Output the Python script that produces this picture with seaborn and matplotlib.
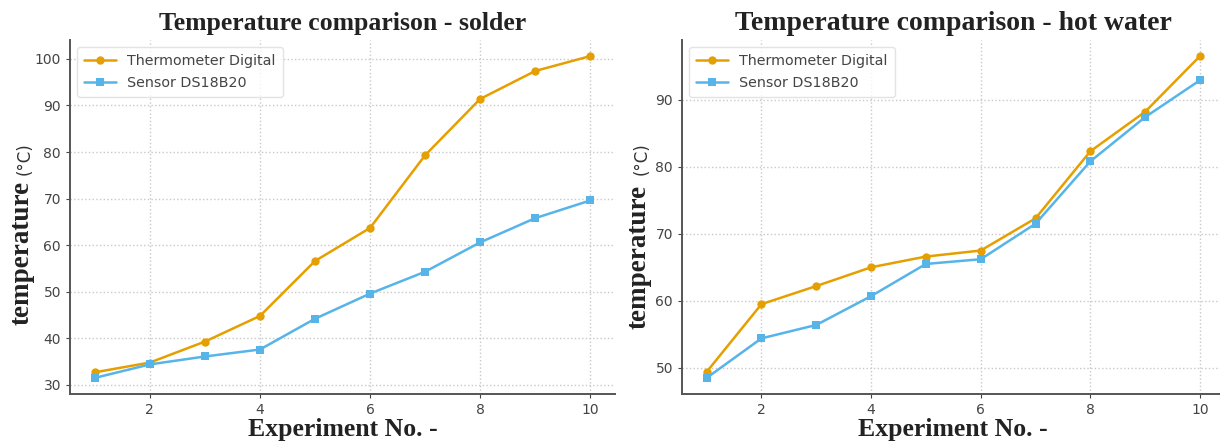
import numpy as np
import pandas as pd
import matplotlib
matplotlib.use("Agg")
import matplotlib.pyplot as plt
import seaborn as sns

# data
experiments = [1, 2, 3, 4, 5, 6, 7, 8, 9, 10]
solder_thermo = [32.7, 34.8, 39.3, 44.8, 56.6, 63.7, 79.3, 91.4, 97.4, 100.6]
solder_sensor = [31.5, 34.4, 36.1, 37.6, 44.2, 49.6, 54.3, 60.6, 65.8, 69.6]
water_thermo = [49.4, 59.5, 62.2, 65.0, 66.6, 67.5, 72.3, 82.3, 88.2, 96.5]
water_sensor = [48.5, 54.4, 56.4, 60.7, 65.5, 66.2, 71.5, 80.8, 87.4, 92.9]
series_names = ["Thermometer Digital", "Sensor DS18B20"]
titles = ["Temperature comparison - solder", "Temperature comparison - hot water"]

sns.set_theme(style="white")
plt.rcParams['font.family'] = ['DejaVu Sans']

ORANGE = "#E69F00"
BLUE = "#56B4E9"
SERIF = "Liberation Serif"

fig = plt.figure(figsize=(12.2, 4.44), dpi=100)
ax1 = fig.add_axes([0.0574, 0.1126, 0.4467, 0.7973])
ax2 = fig.add_axes([0.559, 0.1126, 0.4448, 0.7973])


def draw_panel(ax, thermo, sensor, title, title_size, lab_x, lab_y):
    df = pd.DataFrame({"exp": experiments, "thermo": thermo, "sensor": sensor})
    sns.lineplot(data=df, x="exp", y="thermo", ax=ax, color=ORANGE, marker="o",
                 markersize=6, markeredgewidth=0, linewidth=1.8, label=series_names[0])
    sns.lineplot(data=df, x="exp", y="sensor", ax=ax, color=BLUE, marker="s",
                 markersize=6, markeredgewidth=0, linewidth=1.8, label=series_names[1])
    ax.set_xticks([2, 4, 6, 8, 10])
    ax.grid(True, linestyle=":", color="#c8c8c8", linewidth=1.0)
    for s in ["top", "right"]:
        ax.spines[s].set_visible(False)
    for s in ["left", "bottom"]:
        ax.spines[s].set_color("#555555")
        ax.spines[s].set_linewidth(1.4)
    ax.tick_params(axis="both", labelsize=10, colors="#444444", length=3,
                   width=0.8, direction="out", left=True, bottom=True)
    ax.set_xlabel("Experiment No. -", fontfamily=SERIF, fontweight="bold",
                  fontsize=18.5, color="#222222", labelpad=1)
    ax.set_ylabel("")
    ax.set_title(title, fontfamily=SERIF, fontweight="bold", fontsize=title_size,
                 color="#222222", pad=7)
    # y label: bold serif word plus a smaller plain unit
    ax.text(lab_x, lab_y, "temperature", transform=ax.transAxes, rotation=90,
            ha="center", va="bottom", fontfamily=SERIF, fontweight="bold",
            fontsize=19.5, color="#222222")
    ax.text(lab_x + 0.004, 0.62, "(°C)", transform=ax.transAxes, rotation=90,
            ha="center", va="bottom", fontsize=12, color="#333333")
    leg = ax.legend(loc="upper left", fontsize=10.3, frameon=True, borderpad=0.5,
                    handlelength=2.2, labelspacing=0.55)
    leg.get_frame().set_edgecolor("#dddddd")
    for t in leg.get_texts():
        t.set_color("#444444")


draw_panel(ax1, solder_thermo, solder_sensor, titles[0], 18.5, -0.088, 0.195)
draw_panel(ax2, water_thermo, water_sensor, titles[1], 20, -0.079, 0.185)

fig.savefig("out.png", dpi=100)
